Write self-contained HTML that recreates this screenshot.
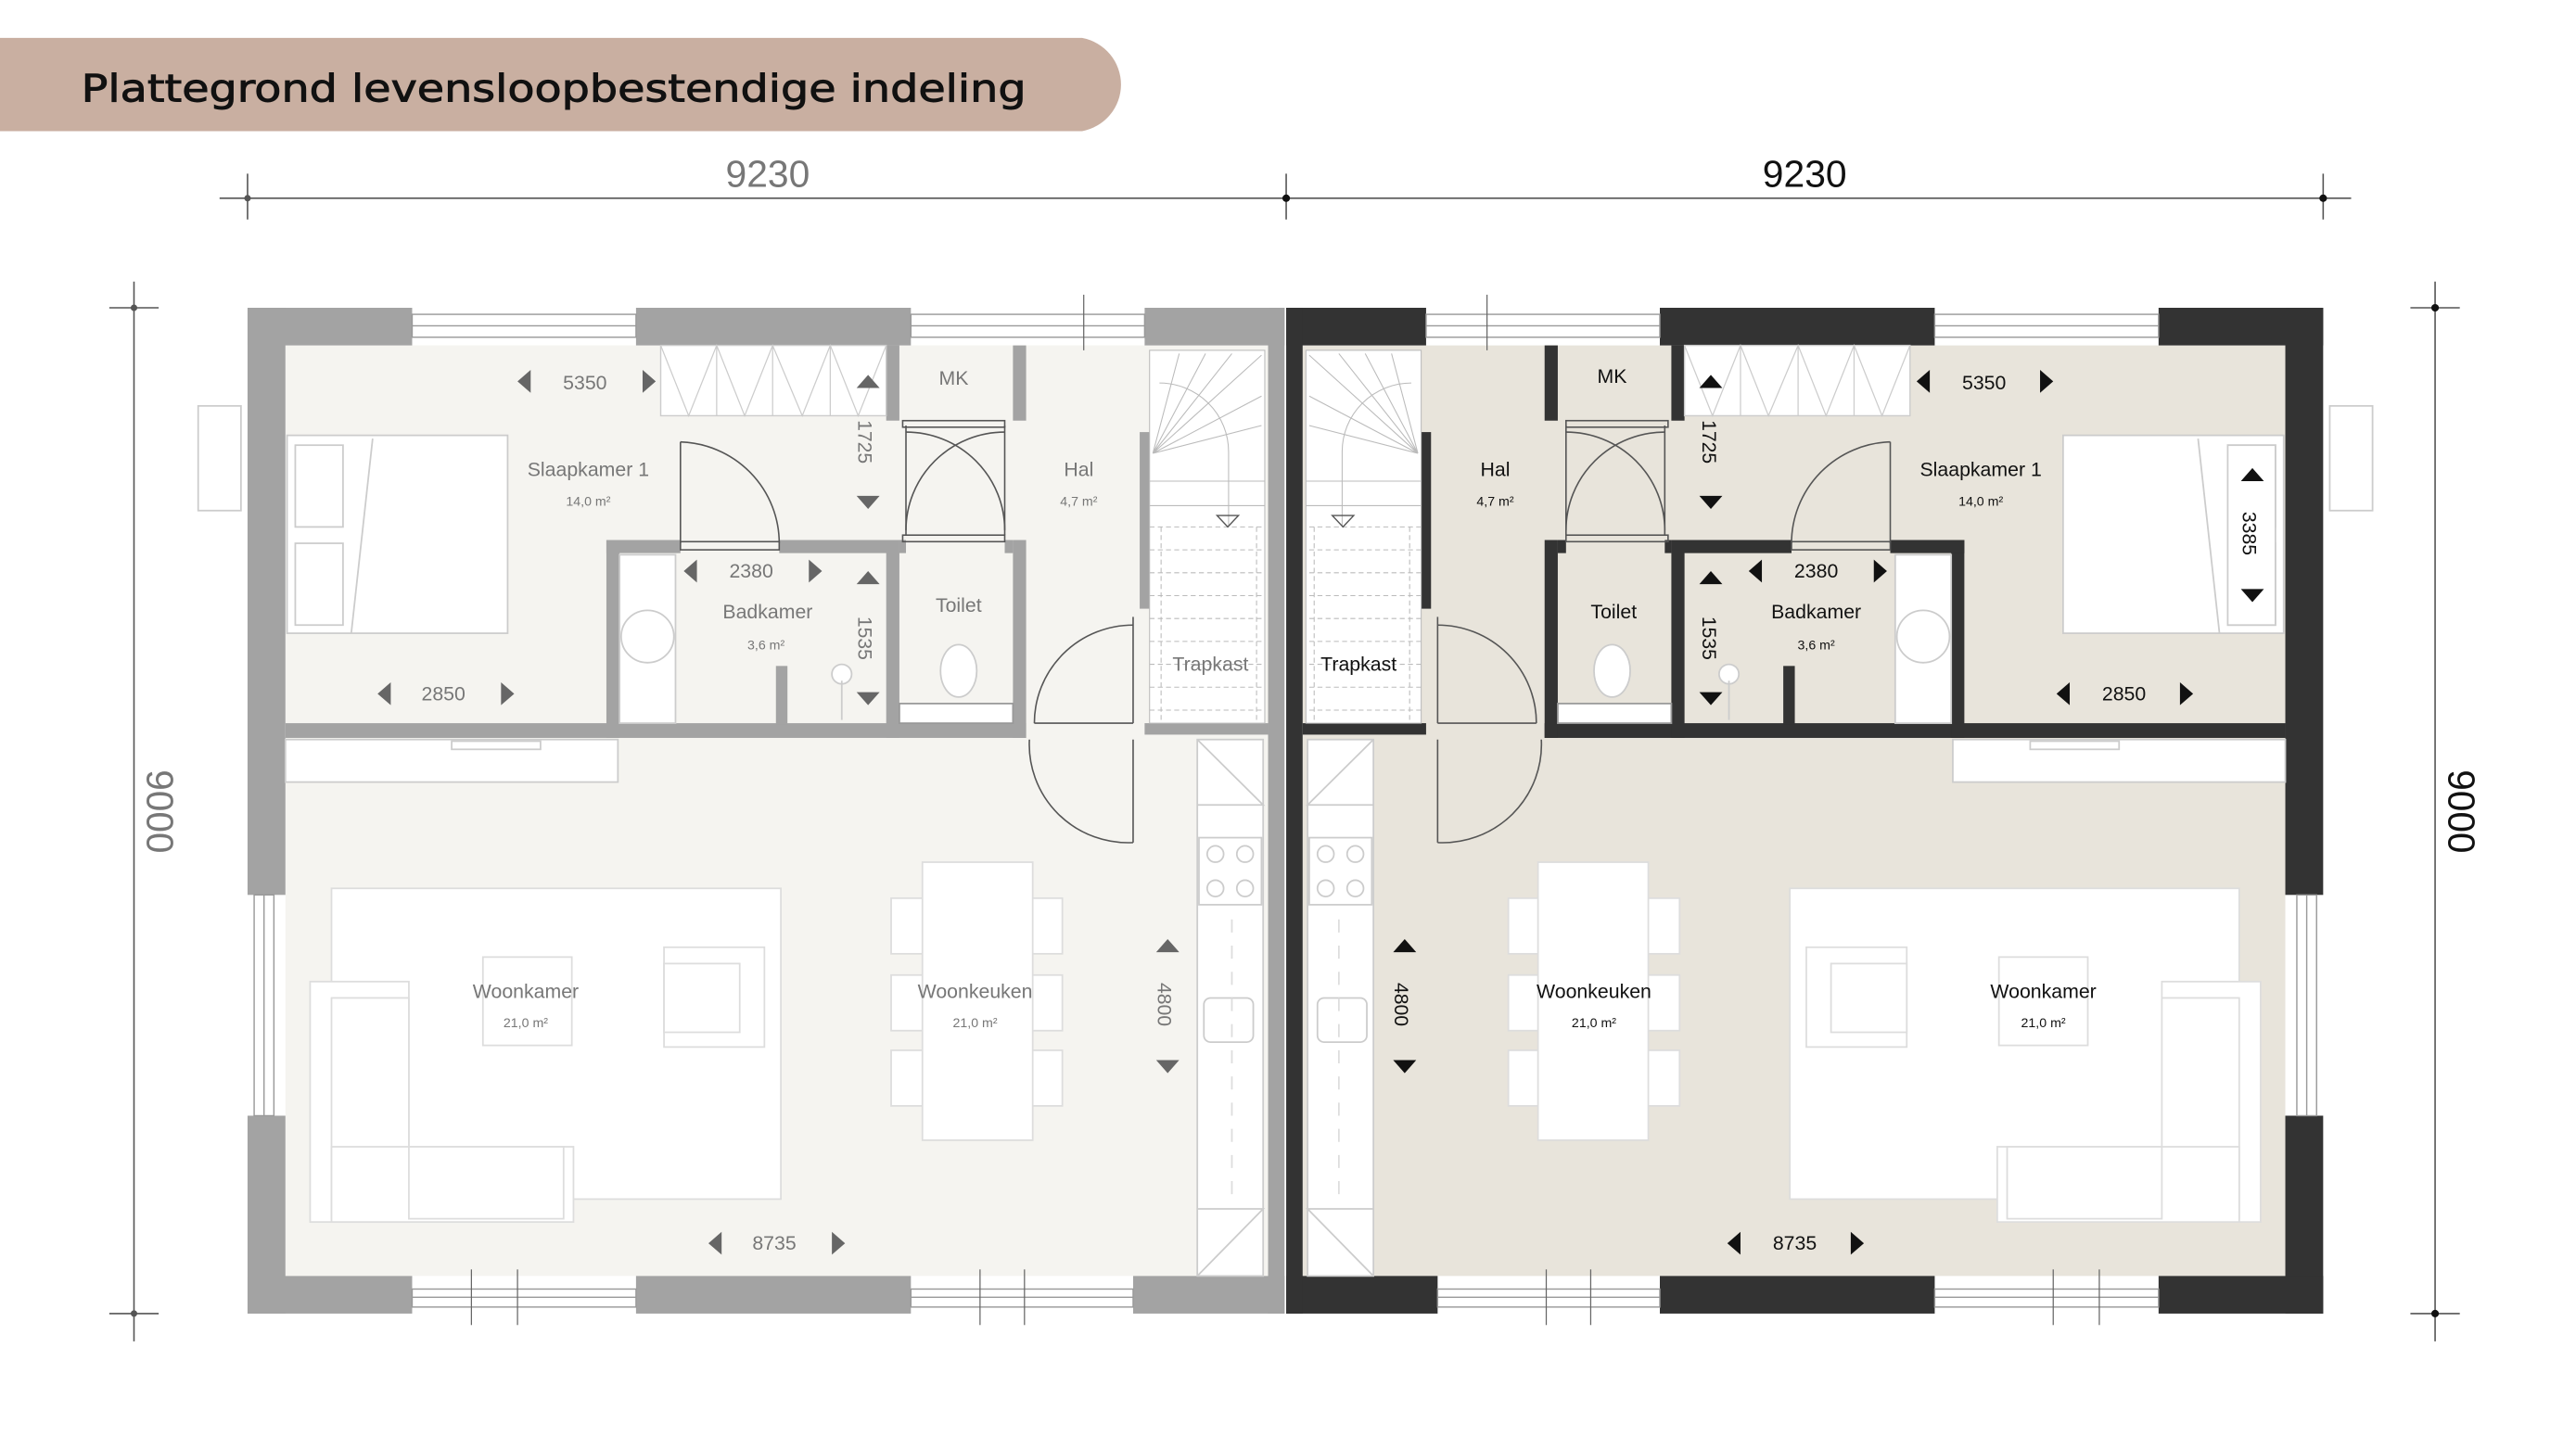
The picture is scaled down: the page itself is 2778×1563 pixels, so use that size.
<!DOCTYPE html>
<html><head><meta charset="utf-8"><style>
html,body{margin:0;padding:0;background:#fff;}
svg{display:block;}
.t{font-family:"Liberation Sans",sans-serif;}
</style></head><body>
<svg width="2778" height="1563" viewBox="1.6 -2.2 1565 886" preserveAspectRatio="none" xmlns="http://www.w3.org/2000/svg" xmlns:xlink="http://www.w3.org/1999/xlink">
<defs>
<g id="u">
  <rect x="175" y="209" width="597" height="569" fill="var(--f)"/>
  <rect x="152" y="186" width="100" height="23" fill="var(--w)"/>
  <rect x="388" y="186" width="167" height="23" fill="var(--w)"/>
  <rect x="697" y="186" width="85" height="23" fill="var(--w)"/>
  <rect x="252" y="190" width="136" height="14" fill="#fff" stroke="#999" stroke-width="0.8"/>
  <line x1="252" y1="197" x2="388" y2="197" stroke="#999" stroke-width="0.8"/>
  <rect x="555" y="190" width="142" height="14" fill="#fff" stroke="#999" stroke-width="0.8"/>
  <line x1="555" y1="197" x2="697" y2="197" stroke="#999" stroke-width="0.8"/>
  <rect x="152" y="186" width="23" height="359" fill="var(--w)"/>
  <rect x="152" y="680" width="23" height="121" fill="var(--w)"/>
  <rect x="156" y="545" width="12" height="135" fill="#fff" stroke="#999" stroke-width="0.8"/>
  <line x1="162" y1="545" x2="162" y2="680" stroke="#999" stroke-width="0.8"/>
  <rect x="152" y="778" width="100" height="23" fill="var(--w)"/>
  <rect x="388" y="778" width="167" height="23" fill="var(--w)"/>
  <rect x="690" y="778" width="92" height="23" fill="var(--w)"/>
  <rect x="252" y="786" width="136" height="11" fill="#fff" stroke="#999" stroke-width="0.8"/>
  <line x1="252" y1="791" x2="388" y2="791" stroke="#999" stroke-width="0.8"/>
  <rect x="555" y="786" width="135" height="11" fill="#fff" stroke="#999" stroke-width="0.8"/>
  <line x1="555" y1="791" x2="690" y2="791" stroke="#999" stroke-width="0.8"/>
  <g stroke="#666" stroke-width="0.7">
    <line x1="288" y1="774" x2="288" y2="808"/><line x1="316" y1="774" x2="316" y2="808"/>
    <line x1="597" y1="774" x2="597" y2="808"/><line x1="624" y1="774" x2="624" y2="808"/>
    <line x1="660" y1="178" x2="660" y2="212"/>
  </g>
  <rect x="772" y="186" width="10" height="615" fill="var(--w)"/>
  <rect x="175" y="440" width="450" height="9" fill="var(--w)"/>
  <rect x="697" y="440" width="75" height="7" fill="var(--w)"/>
  <rect x="370" y="328" width="8" height="121" fill="var(--w)"/>
  <rect x="370" y="328" width="45" height="8" fill="var(--w)"/>
  <rect x="475" y="328" width="73" height="8" fill="var(--w)"/>
  <rect x="540" y="209" width="8" height="46" fill="var(--w)"/>
  <rect x="540" y="328" width="8" height="121" fill="var(--w)"/>
  <rect x="617" y="209" width="8" height="46" fill="var(--w)"/>
  <rect x="617" y="328" width="8" height="121" fill="var(--w)"/>
  <rect x="548" y="328" width="4" height="8" fill="var(--w)"/>
  <rect x="612" y="328" width="5" height="8" fill="var(--w)"/>
  <rect x="694" y="262" width="6" height="108" fill="var(--w)"/>
  <rect x="473" y="405" width="7" height="36" fill="var(--w)"/>
  <g fill="none" stroke="#555" stroke-width="0.9">
    <rect x="415" y="329" width="60" height="5"/>
    <line x1="415" y1="268" x2="415" y2="330"/><path d="M415 268 A62 62 0 0 1 475 330"/>
    <rect x="550" y="255" width="62" height="4"/><rect x="550" y="325" width="62" height="4"/>
    <line x1="552" y1="258" x2="552" y2="325"/><path d="M552 262 A60 60 0 0 1 612 322"/>
    <line x1="612" y1="258" x2="612" y2="325"/><path d="M612 262 A60 60 0 0 0 552 322"/>
    <line x1="630" y1="440" x2="690" y2="440"/>
    <path d="M630 440 A60 60 0 0 1 690 380"/><line x1="690" y1="375" x2="690" y2="440"/>
    <path d="M627 450 A60 60 0 0 0 690 513"/><line x1="690" y1="450" x2="690" y2="513"/>
  </g>
  <rect x="403" y="209" width="137" height="43" fill="#fff" stroke="#ccc" stroke-width="0.8"/>
  <path d="M437 209V252M471 209V252M506 209V252M403 209L420 252L437 209L454 252L471 209L489 252L506 209L523 252L540 209" stroke="#ccc" stroke-width="0.7" fill="none"/>
  <rect x="176" y="264" width="134" height="121" fill="#fff" stroke="#ccc"/>
  <rect x="181" y="270" width="29" height="50" fill="#fff" stroke="#ccc"/>
  <rect x="181" y="330" width="29" height="50" fill="#fff" stroke="#ccc"/>
  <line x1="228" y1="266" x2="215" y2="385" stroke="#ccc"/>
  <rect x="122" y="246" width="26" height="64" fill="#fff" stroke="#ccc"/>
  <rect x="378" y="337" width="34" height="103" fill="#fff" stroke="#ccc"/>
  <circle cx="395" cy="387" r="16" fill="#fff" stroke="#ccc"/>
  <circle cx="513" cy="410" r="6" fill="#fff" stroke="#ccc"/>
  <line x1="513" y1="414" x2="513" y2="438" stroke="#ccc"/>
  <rect x="548" y="428" width="69" height="12" fill="#fff" stroke="#999"/>
  <ellipse cx="584" cy="408" rx="11" ry="16" fill="#fff" stroke="#ccc"/>
  <rect x="700" y="212" width="70" height="228" fill="#fff" stroke="#bbb" stroke-width="0.6"/>
  <g stroke="#bbb" stroke-width="0.6" fill="none">
    <path d="M702 275L768 215M702 275L750 214M702 275L734 214M702 275L718 214M702 275L768 240M702 275L768 258"/>
    <line x1="700" y1="292" x2="770" y2="292"/><line x1="700" y1="307" x2="770" y2="307"/>
    <path d="M706 232 A42 42 0 0 1 748 274V320"/>
  </g>
  <g stroke="#bbb" stroke-width="0.6" stroke-dasharray="3 2">
    <line x1="700" y1="320" x2="770" y2="320"/><line x1="700" y1="334" x2="770" y2="334"/>
    <line x1="700" y1="348" x2="770" y2="348"/><line x1="700" y1="362" x2="770" y2="362"/>
    <line x1="700" y1="376" x2="770" y2="376"/><line x1="700" y1="390" x2="770" y2="390"/>
    <line x1="700" y1="404" x2="770" y2="404"/><line x1="700" y1="418" x2="770" y2="418"/>
    <line x1="700" y1="432" x2="770" y2="432"/><line x1="707" y1="320" x2="707" y2="440"/><line x1="765" y1="320" x2="765" y2="440"/>
  </g>
  <path d="M741 313H754L747.5 320Z" fill="none" stroke="#555" stroke-width="0.8"/>
  <rect x="729" y="450" width="40" height="328" fill="#fff" stroke="#ccc"/>
  <path d="M729 490H769L729 450M729 737H769L729 778" fill="none" stroke="#ccc"/>
  <rect x="730" y="510" width="38" height="41" fill="#fff" stroke="#ccc"/>
  <circle cx="740" cy="520" r="5" fill="none" stroke="#ccc"/><circle cx="758" cy="520" r="5" fill="none" stroke="#ccc"/>
  <circle cx="740" cy="541" r="5" fill="none" stroke="#ccc"/><circle cx="758" cy="541" r="5" fill="none" stroke="#ccc"/>
  <rect x="733" y="608" width="30" height="27" rx="4" fill="#fff" stroke="#ccc"/>
  <line x1="750" y1="560" x2="750" y2="735" stroke="#ddd" stroke-dasharray="8 8"/>
  <rect x="175" y="450" width="202" height="26" fill="#fff" stroke="#ccc"/>
  <rect x="276" y="451" width="54" height="5" fill="#fff" stroke="#ccc"/>
  <rect x="203" y="541" width="273" height="190" fill="#fff" stroke="#ddd"/>
  <rect x="190" y="598" width="60" height="147" fill="#fff" stroke="#ddd"/>
  <rect x="203" y="608" width="47" height="135" fill="#fff" stroke="#ddd"/>
  <rect x="203" y="699" width="147" height="46" fill="#fff" stroke="#ddd"/>
  <rect x="250" y="699" width="94" height="44" fill="#fff" stroke="#ddd"/>
  <rect x="295" y="583" width="54" height="54" fill="#fff" stroke="#ddd"/>
  <rect x="405" y="577" width="61" height="61" fill="#fff" stroke="#ddd"/>
  <rect x="405" y="587" width="46" height="42" fill="#fff" stroke="#ddd"/>
  <g fill="#fff" stroke="#ddd">
    <rect x="543" y="547" width="20" height="34"/><rect x="543" y="594" width="20" height="34"/><rect x="543" y="640" width="20" height="34"/>
    <rect x="628" y="547" width="19" height="34"/><rect x="628" y="594" width="19" height="34"/><rect x="628" y="640" width="19" height="34"/>
    <rect x="562" y="525" width="67" height="170"/>
  </g>
</g>
</defs>

<path d="M0 21H659A29 29 0 0 1 659 78H0Z" fill="#c9afa1"/>
<text x="51" y="60" font-family="DejaVu Sans, Liberation Sans, sans-serif" font-size="23" textLength="574" lengthAdjust="spacingAndGlyphs" fill="#111" stroke="#111" stroke-width="0.5">Plattegrond levensloopbestendige indeling</text>

<g stroke="#555" stroke-width="0.9">
  <line x1="135" y1="119" x2="1430" y2="119"/>
  <line x1="152" y1="104" x2="152" y2="132"/>
  <line x1="783" y1="104" x2="783" y2="132"/>
  <line x1="1413" y1="104" x2="1413" y2="132"/>
  <line x1="83" y1="170" x2="83" y2="818"/>
  <line x1="68" y1="186" x2="98" y2="186"/><line x1="68" y1="801" x2="98" y2="801"/>
  <line x1="1481" y1="170" x2="1481" y2="818"/>
  <line x1="1466" y1="186" x2="1496" y2="186"/><line x1="1466" y1="801" x2="1496" y2="801"/>
</g>
<g fill="#555"><circle cx="152" cy="119" r="2"/><circle cx="783" cy="119" r="2.3" fill="#111"/><circle cx="1413" cy="119" r="2.3" fill="#111"/>
<circle cx="83" cy="186" r="2"/><circle cx="83" cy="801" r="2"/><circle cx="1481" cy="186" r="2.3" fill="#111"/><circle cx="1481" cy="801" r="2.3" fill="#111"/></g>
<text class="t" x="468" y="112" font-size="23" text-anchor="middle" fill="#777">9230</text>
<text class="t" x="1098" y="112" font-size="23" text-anchor="middle" fill="#111">9230</text>
<text class="t" font-size="23" text-anchor="middle" fill="#777" transform="translate(91,494) rotate(90)">9000</text>
<text class="t" font-size="23" text-anchor="middle" fill="#111" transform="translate(1489,494) rotate(90)">9000</text>

<use xlink:href="#u" href="#u" style="--w:#a3a3a3;--f:#f5f4f0"/>
<use xlink:href="#u" href="#u" transform="translate(1565,0) scale(-1,1)" style="--w:#333333;--f:#e8e4db"/>
<rect x="1355" y="270" width="29" height="110" fill="#fff" stroke="#ccc"/>

<g class="t" fill="#777" text-anchor="middle" font-size="12">
  <text x="357" y="236">5350</text><text x="359" y="289">Slaapkamer 1</text><text x="359" y="307" font-size="8">14,0 m²</text>
  <text x="271" y="426">2850</text><text x="581" y="233">MK</text><text x="657" y="289">Hal</text><text x="657" y="307" font-size="8">4,7 m²</text>
  <text x="458" y="351">2380</text><text x="468" y="376">Badkamer</text><text x="467" y="395" font-size="8">3,6 m²</text>
  <text x="584" y="372">Toilet</text><text x="737" y="408">Trapkast</text>
  <text x="321" y="608">Woonkamer</text><text x="321" y="626" font-size="8">21,0 m²</text>
  <text x="594" y="608">Woonkeuken</text><text x="594" y="626" font-size="8">21,0 m²</text>
  <text x="472" y="762">8735</text>
  <text transform="translate(523,268) rotate(90)">1725</text>
  <text transform="translate(523,388) rotate(90)">1535</text>
  <text transform="translate(705,612) rotate(90)">4800</text>
</g>
<g fill="#666">
  <path d="M324 224L316 231L324 238Z M392 224L400 231L392 238Z"/>
  <path d="M239 415L231 422L239 429Z M306 415L314 422L306 429Z"/>
  <path d="M425 340L417 347L425 354Z M493 340L501 347L493 354Z"/>
  <path d="M440 751L432 758L440 765Z M507 751L515 758L507 765Z"/>
  <path d="M522 235L529 227L536 235Z M522 301L529 309L536 301Z"/>
  <path d="M522 355L529 347L536 355Z M522 421L529 429L536 421Z"/>
  <path d="M704 580L711 572L718 580Z M704 646L711 654L718 646Z"/>
</g>
<g class="t" fill="#111" text-anchor="middle" font-size="12">
  <text x="981" y="232">MK</text><text x="1207" y="236">5350</text>
  <text x="910" y="289">Hal</text><text x="910" y="307" font-size="8">4,7 m²</text>
  <text x="1205" y="289">Slaapkamer 1</text><text x="1205" y="307" font-size="8">14,0 m²</text>
  <text x="1105" y="351">2380</text><text x="1105" y="376">Badkamer</text><text x="1105" y="395" font-size="8">3,6 m²</text>
  <text x="982" y="376">Toilet</text><text x="827" y="408">Trapkast</text>
  <text x="1292" y="426">2850</text>
  <text x="970" y="608">Woonkeuken</text><text x="970" y="626" font-size="8">21,0 m²</text>
  <text x="1243" y="608">Woonkamer</text><text x="1243" y="626" font-size="8">21,0 m²</text>
  <text x="1092" y="762">8735</text>
  <text transform="translate(1036,268) rotate(90)">1725</text>
  <text transform="translate(1036,388) rotate(90)">1535</text>
  <text transform="translate(849,612) rotate(90)">4800</text>
  <text transform="translate(1364,324) rotate(90)">3385</text>
</g>
<g fill="#111">
  <path d="M1174 224L1166 231L1174 238Z M1241 224L1249 231L1241 238Z"/>
  <path d="M1259 415L1251 422L1259 429Z M1326 415L1334 422L1326 429Z"/>
  <path d="M1072 340L1064 347L1072 354Z M1140 340L1148 347L1140 354Z"/>
  <path d="M1059 751L1051 758L1059 765Z M1126 751L1134 758L1126 765Z"/>
  <path d="M1034 235L1041 227L1048 235Z M1034 301L1041 309L1048 301Z"/>
  <path d="M1034 355L1041 347L1048 355Z M1034 421L1041 429L1048 421Z"/>
  <path d="M848 580L855 572L862 580Z M848 646L855 654L862 646Z"/>
  <path d="M1363 292L1370 284L1377 292Z M1363 358L1370 366L1377 358Z"/>
</g>
</svg>
</body></html>
